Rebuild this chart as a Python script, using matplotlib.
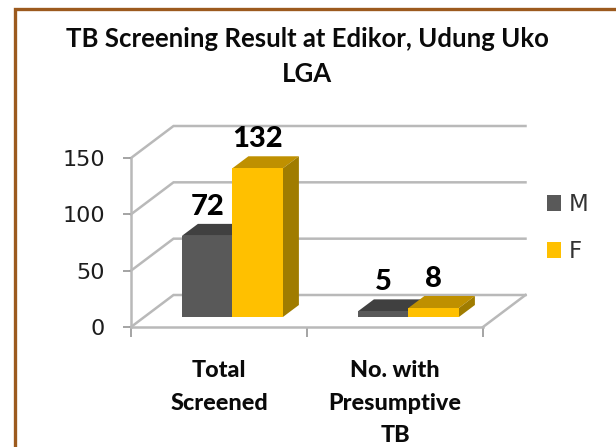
import matplotlib
matplotlib.use("Agg")
import matplotlib.pyplot as plt
from matplotlib.patches import Patch, Polygon
from matplotlib.lines import Line2D

title = "TB Screening Result at Edikor, Udung Uko\nLGA"
categories = ["Total\nScreened", "No. with\nPresumptive\nTB"]
series_names = ["M", "F"]
male = [72, 5]
female = [132, 8]
y_ticks = [0, 50, 100, 150]

W, H = 616, 447
GREY = "#b9b9b9"
fig = plt.figure(figsize=(W / 100, H / 100), dpi=100, facecolor="white")
ax = fig.add_axes([131 / W, (H - 327) / H, 352 / W, 169 / H])
ax.set_xlim(0, 2)
ax.set_ylim(0, 150)
ax.patch.set_alpha(0)

# pixel -> data scale for the fake 3D depth
ux, uy = 2 / 352, 150 / 169
WALL_X, WALL_Y = 42.5 * ux, 32 * uy
FRONT_X, FRONT_Y = 13.4 * ux, 10 * uy
DEPTH_X, DEPTH_Y = 16 * ux, 12 * uy
BAR_W = 50.5 * ux

# walls and gridlines
for v in y_ticks:
    ax.plot([0, WALL_X, 2 + WALL_X], [v, v + WALL_Y, v + WALL_Y], color=GREY,
            lw=1.8, clip_on=False, zorder=1, solid_joinstyle="miter")
ax.plot([2, 2 + WALL_X], [0, WALL_Y], color=GREY, lw=1.8, clip_on=False, zorder=1)


def bar3d(xc, values, front, top, side):
    for x0, v in zip(xc, values):
        ax.bar(x0 + FRONT_X, v, BAR_W, bottom=FRONT_Y, color=front, lw=0, zorder=4)
        xl = x0 + FRONT_X - BAR_W / 2
        xr = x0 + FRONT_X + BAR_W / 2
        yb, yt = FRONT_Y, FRONT_Y + v
        ax.add_patch(Polygon([(xl, yt), (xr, yt), (xr + DEPTH_X, yt + DEPTH_Y),
                              (xl + DEPTH_X, yt + DEPTH_Y)], fc=top, lw=0, zorder=3,
                             clip_on=False))
        ax.add_patch(Polygon([(xr, yb), (xr, yt), (xr + DEPTH_X, yt + DEPTH_Y),
                              (xr + DEPTH_X, yb + DEPTH_Y)], fc=side, lw=0, zorder=3,
                             clip_on=False))
        ax.annotate(str(v), (x0 + FRONT_X, yt), xytext=(0, 29), textcoords="offset pixels",
                    ha="center", va="center", fontsize=21, fontweight=900,
                    family="Lato", color="#000000", zorder=6, annotation_clip=False)


centers = [0.5, 1.5]
bar3d([c - BAR_W / 2 for c in centers], male, "#595959", "#404040", "#404040")
bar3d([c + BAR_W / 2 for c in centers], female, "#ffc000", "#bf9000", "#a07c00")

# axes
for s in ("top", "right"):
    ax.spines[s].set_visible(False)
for s in ("left", "bottom"):
    ax.spines[s].set_color(GREY)
    ax.spines[s].set_linewidth(1.8)
ax.set_yticks(y_ticks)
ax.set_xticks([0, 1, 2])
ax.set_xticklabels([])
ax.set_xticks(centers, categories, minor=True)
ax.tick_params(axis="y", length=5.8, width=1.1, color="#8c8c8c", pad=13, labelsize=16,
               labelcolor="#1d1d1d")
ax.tick_params(axis="x", which="major", length=7, width=1.1, color="#8c8c8c")
ax.tick_params(axis="x", which="minor", length=0, pad=24)
for lab in ax.get_xticklabels(minor=True):
    lab.set_family("Lato")
    lab.set_fontweight(900)
    lab.set_fontsize(16.8)
    lab.set_linespacing(1.66)
    lab.set_color("#0a0a0a")

ax.set_title(title, family="Lato", fontweight="bold", fontsize=18.5, linespacing=1.55,
             pad=55, color="#0a0a0a")

handles = [Patch(fc="#595959", lw=0), Patch(fc="#ffc000", lw=0)]
ax.legend(handles, series_names, loc="center left", bbox_to_anchor=(547 / W, (H - 228) / H),
          bbox_transform=fig.transFigure, frameon=False, fontsize=16.5, handlelength=0.62,
          handleheight=0.72, labelspacing=1.05, handletextpad=0.32, labelcolor="#333333",
          borderpad=0, borderaxespad=0)

# page frame
BROWN = "#9c5a1e"
fig.add_artist(Line2D([14.5 / W, 14.5 / W, 1], [0, (H - 8.5) / H, (H - 8.5) / H],
                      color=BROWN, lw=2.4, solid_joinstyle="miter"))

fig.savefig("out.png", dpi=100, facecolor="white")
